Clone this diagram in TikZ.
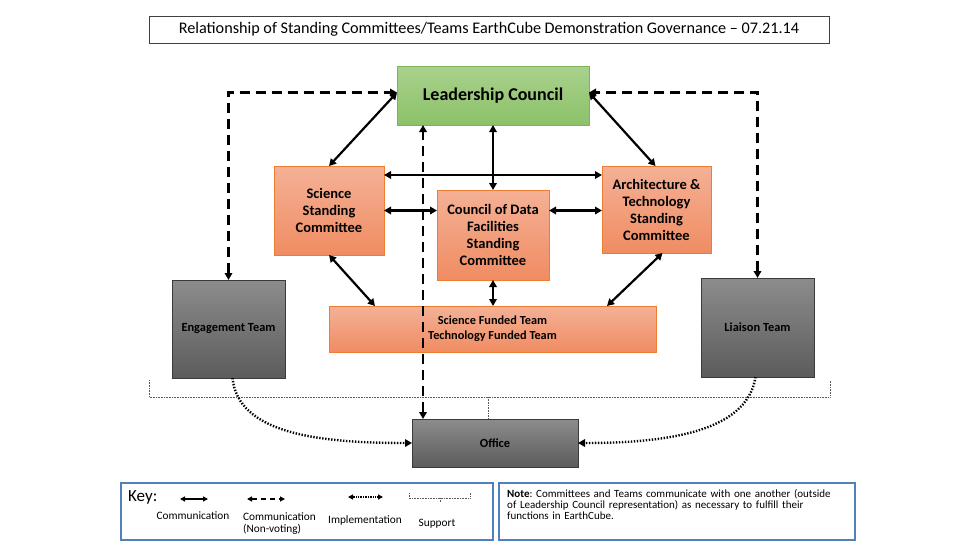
\documentclass[tikz,border=0pt]{standalone}
\usepackage{fontspec}
\setmainfont{Carlito}
\usetikzlibrary{arrows.meta,calc}
\definecolor{grnT}{HTML}{A9D18E}
\definecolor{grnB}{HTML}{8CC168}
\definecolor{grnD}{HTML}{7DB45A}
\definecolor{orgT}{HTML}{F4B196}
\definecolor{orgB}{HTML}{F08C62}
\definecolor{orgD}{HTML}{ED7D31}
\definecolor{gryT}{HTML}{8C8C8C}
\definecolor{gryB}{HTML}{5C5C5C}
\definecolor{gryD}{HTML}{3A3A3A}
\definecolor{keyblue}{HTML}{4F81BD}
\frenchspacing
\tikzset{
  tip/.tip={Triangle[length=7pt,width=7.5pt]},
  smalltip/.tip={Triangle[length=5pt,width=5pt]},
  greenbox/.style={draw=grnD, line width=0.8pt, top color=grnT, bottom color=grnB, inner sep=0pt, outer sep=0pt, align=center, font=\fontsize{18}{20}\selectfont\bfseries},
  orangebox/.style={draw=orgD, line width=0.6pt, top color=orgT, bottom color=orgB, inner sep=0pt, outer sep=0pt, align=center, font=\fontsize{14.5}{17}\selectfont\bfseries},
  graybox/.style={draw=gryD, line width=0.8pt, top color=gryT, bottom color=gryB, inner sep=0pt, outer sep=0pt, align=center, font=\fontsize{12.4}{14}\selectfont\bfseries},
  comm/.style={line width=2.2pt, tip-tip},
  nonvote/.style={line width=2.8pt, dash pattern=on 10pt off 6pt},
  impl/.style={line width=2.4pt, dash pattern=on 1.4pt off 1.6pt, -tip},
  support/.style={line width=0.9pt, draw=black!65, dash pattern=on 0.8pt off 0.8pt},
  keybox/.style={draw=keyblue, line width=2.6pt, inner sep=0pt, outer sep=0pt},
  lbl/.style={font=\fontsize{11.3}{12.5}\selectfont, inner sep=0pt},
}
\begin{document}
\begin{tikzpicture}[x=1pt,y=-1pt]
\useasboundingbox[fill=white] (0,0) rectangle (975,549);

% title
\node[draw=black!75, line width=0.8pt, minimum width=680pt, minimum height=27pt, inner sep=0pt,
  font=\fontsize{16.2}{18}\selectfont] (title) at (489,29.5)
  {Relationship of Standing Committees/Teams EarthCube Demonstration Governance -- 07.21.14};

% main boxes
\node[greenbox, minimum width=192pt, minimum height=59pt] (lc) at (493,95.5) {Leadership Council};
\node[orangebox, minimum width=110pt, minimum height=89pt] (ssc) at (329,210.5) {Science\\Standing\\Committee};
\node[orangebox, minimum width=112pt, minimum height=90pt] (cdf) at (493,235) {Council of Data\\Facilities\\Standing\\Committee};
\node[orangebox, minimum width=109pt, minimum height=87pt] (arch) at (656.5,209.5) {Architecture \&\\Technology\\Standing\\Committee};
\node[orangebox, minimum width=327pt, minimum height=46pt, font=\fontsize{12.3}{15}\selectfont\bfseries] (teams) at (492.5,329) {Science Funded Team\\Technology Funded Team};
\node[graybox, minimum width=113pt, minimum height=98pt] (eng) at (228.5,329) {Engagement Team};
\node[graybox, minimum width=113pt, minimum height=99pt] (lia) at (757.5,327.5) {Liaison Team};
\node[graybox, minimum width=166pt, minimum height=48pt] (ofc) at (495,443) {Office};

% support bracket
\coordinate (bl) at (149,380);
\coordinate (br) at (830,380);
\draw[support] (bl) -- (149,397) -- (830,397) -- (br);
\draw[support] ([xshift=-7pt]ofc.north |- 0,397) -- ([xshift=-7pt]ofc.north);

% communication arrows
\draw[comm] ([yshift=3pt]lc.west) -- (ssc.north);
\draw[comm] ([yshift=3pt]lc.east) -- ([xshift=-1pt]arch.north);
\draw[comm] (lc.south) -- (cdf.north);
\draw[comm] ([yshift=-9pt]ssc.north east) -- ([yshift=-9pt]arch.north west);
\draw[comm] (ssc.east) -- (ssc.east -| cdf.west);
\draw[comm] (ssc.east -| cdf.east) -- (ssc.east -| arch.west);
\draw[comm] (ssc.south) -- ([xshift=46pt]teams.north west);
\draw[comm] ([xshift=6pt]arch.south) -- ([xshift=-49pt]teams.north east);
\draw[comm] (cdf.south) -- (cdf.south |- teams.north);

% non-voting communication
\draw[nonvote, tip-tip] (eng.north) |- ([yshift=3pt]lc.west);
\draw[nonvote, tip-tip] (lia.north) |- ([yshift=3pt]lc.east);
\draw[nonvote, tip-tip] ([xshift=11pt]ofc.north west) -- ([xshift=11pt]ofc.north west |- lc.south);

% implementation
\draw[impl] ([xshift=4pt]eng.south) .. controls (238,434) and (320,443) .. (ofc.west);
\draw[impl] ([xshift=-2pt]lia.south) .. controls (747,434) and (660,443) .. (ofc.east);

% key box
\node[keybox, minimum width=372pt, minimum height=57pt] (key) at (307,511.5) {};
\node[anchor=west, inner sep=0pt, font=\fontsize{17}{19}\selectfont] (keylbl) at (128,497) {Key:};
\coordinate (k1a) at (180,499); \coordinate (k1b) at (208,499);
\draw[line width=1.4pt, smalltip-smalltip] (k1a) -- (k1b);
\node[lbl] (k1t) at (193,516) {Communication};
\coordinate (k2a) at (247,499); \coordinate (k2b) at (285,499);
\draw[line width=1.4pt, dash pattern=on 5pt off 4pt, smalltip-smalltip] (k2a) -- (k2b);
\node[lbl, anchor=north west, align=left] (k2t) at (243,512) {Communication\\(Non-voting)};
\coordinate (k3a) at (348,497); \coordinate (k3b) at (383,497);
\draw[line width=1.2pt, dash pattern=on 0.8pt off 0.9pt, smalltip-smalltip] (k3a) -- (k3b);
\node[lbl] (k3t) at (365,520) {Implementation};
\coordinate (k4a) at (409,493); \coordinate (k4b) at (470,493);
\draw[support, line width=0.7pt] (k4a) -- (409,498) -- (470,498) -- (k4b);
\draw[support, line width=0.7pt] (440,498) -- (440,502);
\node[lbl] (k4t) at (437,524) {Support};

% note box
\node[keybox, minimum width=356pt, minimum height=57pt] (note) at (677,511.5) {};
\node[anchor=north west, align=left, inner sep=0pt, text width=340pt,
  font=\fontsize{11}{11.3}\selectfont] (notetxt) at (507,489)
  {\textbf{Note}: Committees and Teams communicate with one another (outside\\ of Leadership Council representation) as necessary to fulfill their\\ functions in EarthCube.};
\end{tikzpicture}
\end{document}
